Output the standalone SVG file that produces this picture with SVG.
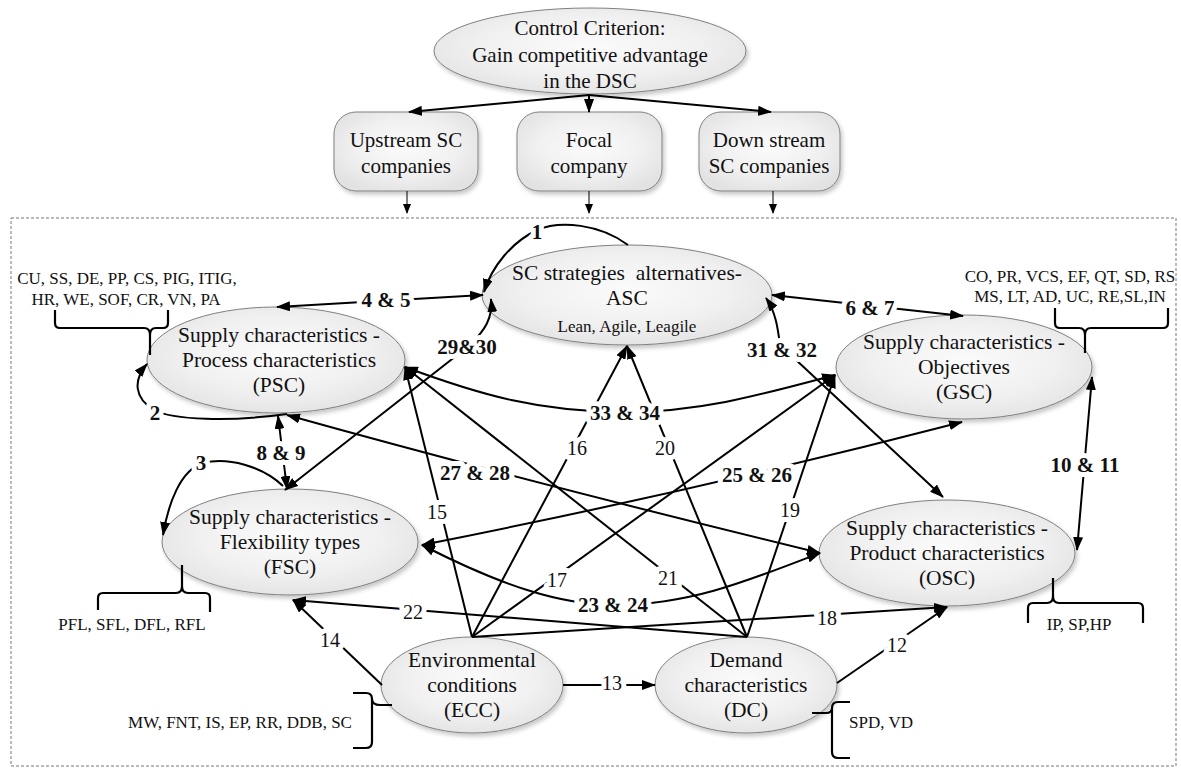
<svg xmlns="http://www.w3.org/2000/svg" width="1181" height="768" viewBox="0 0 1181 768">
<style>
  text{font-family:"Liberation Serif","Times New Roman",serif;fill:#111;text-anchor:middle}
  .nt{font-size:21.5px}
  .tt{font-size:21px}
  .an{font-size:17px}
  .lb{font-size:21px;font-weight:bold;paint-order:stroke;stroke:#fff;stroke-width:10px;stroke-linejoin:round}
  .ln{font-size:20px;paint-order:stroke;stroke:#fff;stroke-width:10px;stroke-linejoin:round}
  .shape{fill:url(#gf);stroke:#808080;stroke-width:1;filter:url(#sh)}
  .c{fill:none;stroke:#000;stroke-width:2}
  .ce{marker-end:url(#ah)}
  .cb{marker-start:url(#ah);marker-end:url(#ah)}
  .thin{fill:none;stroke:#000;stroke-width:1;marker-end:url(#ahs)}
  .br{fill:none;stroke:#000;stroke-width:2.2}
</style>
<defs>
  <radialGradient id="gf" cx="50%" cy="45%" r="60%">
    <stop offset="0" stop-color="#fbfbfb"/>
    <stop offset="0.6" stop-color="#f0f0f0"/>
    <stop offset="1" stop-color="#e2e2e2"/>
  </radialGradient>
  <filter id="sh" x="-10%" y="-10%" width="125%" height="130%">
    <feDropShadow dx="2" dy="3" stdDeviation="2" flood-color="#000" flood-opacity="0.22"/>
  </filter>
  <marker id="ah" viewBox="0 0 14 10" refX="13" refY="5" markerWidth="14" markerHeight="10" orient="auto-start-reverse" markerUnits="userSpaceOnUse">
    <path d="M0,0 L14,5 L0,10 z" fill="#000"/>
  </marker>
  <marker id="ahs" viewBox="0 0 10 8" refX="9" refY="4" markerWidth="10" markerHeight="8" orient="auto" markerUnits="userSpaceOnUse">
    <path d="M0,0 L10,4 L0,8 z" fill="#000"/>
  </marker>
</defs>
<rect width="1181" height="768" fill="#fff"/>

<!-- dashed frame -->
<rect x="11" y="218" width="1165" height="548" fill="none" stroke="#777" stroke-width="1" stroke-dasharray="3,2"/>

<!-- top nodes -->
<g id="control">
  <ellipse class="shape" cx="590" cy="51" rx="156" ry="43"/>
  <text class="tt" x="590" y="35">Control Criterion:</text>
  <text class="tt" x="590" y="62">Gain competitive advantage</text>
  <text class="tt" x="590" y="88">in the DSC</text>
</g>
<g id="upstream">
  <rect class="shape" x="334" y="112" width="144" height="79" rx="22"/>
  <text class="tt" x="406" y="147">Upstream SC</text>
  <text class="tt" x="406" y="173">companies</text>
</g>
<g id="focal">
  <rect class="shape" x="517" y="112" width="145" height="79" rx="22"/>
  <text class="tt" x="589" y="147">Focal</text>
  <text class="tt" x="589" y="173">company</text>
</g>
<g id="downstream">
  <rect class="shape" x="699" y="112" width="141" height="79" rx="22"/>
  <text class="tt" x="769" y="147">Down stream</text>
  <text class="tt" x="769" y="173">SC companies</text>
</g>

<!-- main nodes -->
<g id="ASC">
  <ellipse class="shape" cx="627" cy="295" rx="145" ry="50"/>
  <text class="nt" x="627" y="280" style="white-space:pre">SC strategies  alternatives-</text>
  <text class="nt" x="627" y="305">ASC</text>
  <text class="an" x="627" y="332">Lean, Agile, Leagile</text>
</g>
<g id="PSC">
  <ellipse class="shape" cx="276" cy="360" rx="129" ry="53"/>
  <text class="nt" x="279" y="342">Supply characteristics -</text>
  <text class="nt" x="279" y="367">Process characteristics</text>
  <text class="nt" x="279" y="392">(PSC)</text>
</g>
<g id="GSC">
  <ellipse class="shape" cx="964" cy="367" rx="128" ry="52"/>
  <text class="nt" x="964" y="349">Supply characteristics -</text>
  <text class="nt" x="964" y="374">Objectives</text>
  <text class="nt" x="964" y="399">(GSC)</text>
</g>
<g id="FSC">
  <ellipse class="shape" cx="290" cy="542" rx="128" ry="53"/>
  <text class="nt" x="290" y="524">Supply characteristics -</text>
  <text class="nt" x="290" y="549">Flexibility types</text>
  <text class="nt" x="290" y="574">(FSC)</text>
</g>
<g id="OSC">
  <ellipse class="shape" cx="947" cy="553" rx="128" ry="53"/>
  <text class="nt" x="947" y="535">Supply characteristics -</text>
  <text class="nt" x="947" y="560">Product characteristics</text>
  <text class="nt" x="947" y="585">(OSC)</text>
</g>
<g id="ECC">
  <ellipse class="shape" cx="472" cy="685" rx="91" ry="48"/>
  <text class="nt" x="472" y="667">Environmental</text>
  <text class="nt" x="472" y="692">conditions</text>
  <text class="nt" x="472" y="717">(ECC)</text>
</g>
<g id="DC">
  <ellipse class="shape" cx="746" cy="685" rx="91" ry="48"/>
  <text class="nt" x="746" y="667">Demand</text>
  <text class="nt" x="746" y="692">characteristics</text>
  <text class="nt" x="746" y="717">(DC)</text>
</g>

<!-- annotations with brackets -->
<g id="PSC-items">
  <text class="an" x="127" y="284">CU, SS, DE, PP, CS, PIG, ITIG,</text>
  <text class="an" x="126" y="305">HR, WE, SOF, CR, VN, PA</text>
  <path class="br" d="M55,310 L55,323 Q55,328 60,328 L144,328 Q150,328 150,335 L150,355 M150,335 Q150,328 156,328 L163,328 Q168,328 168,323 L168,310"/>
</g>
<g id="GSC-items">
  <text class="an" x="1070" y="282">CO, PR, VCS, EF, QT, SD, RS</text>
  <text class="an" x="1070" y="302">MS, LT, AD, UC, RE,SL,IN</text>
  <path class="br" d="M1055,308 L1055,323 Q1055,328 1060,328 L1079,328 Q1085,328 1085,335 L1085,353 M1085,335 Q1085,328 1091,328 L1163,328 Q1168,328 1168,323 L1168,308"/>
</g>
<g id="FSC-items">
  <path class="br" d="M182,565 L182,586 Q182,593 176,593 L103,593 Q98,593 98,598 L98,610 M182,586 Q182,593 188,593 L205,593 Q210,593 210,598 L210,612"/>
  <text class="an" x="132" y="630">PFL, SFL, DFL, RFL</text>
</g>
<g id="OSC-items">
  <path class="br" d="M1053,578 L1053,596 Q1053,603 1047,603 L1033,603 Q1028,603 1028,608 L1028,623 M1053,596 Q1053,603 1059,603 L1138,603 Q1143,603 1143,608 L1143,623"/>
  <text class="an" x="1079" y="630">IP, SP,HP</text>
</g>
<g id="ECC-items">
  <path class="br" d="M353,693 L366,693 Q372,693 372,699 Q372,705 380,705 L392,705 M372,699 Q372,705 372,711 L372,742 Q372,748 366,748 L353,748"/>
  <text class="an" x="240" y="728">MW, FNT, IS, EP, RR, DDB, SC</text>
</g>
<g id="DC-items">
  <path class="br" d="M850,702 L838,702 Q832,702 832,708 Q832,713 826,713 L812,713 M832,708 Q832,713 832,719 L832,752 Q832,758 838,758 L850,758"/>
  <text class="an" x="881" y="728">SPD, VD</text>
</g>

<!-- connectors -->
<g id="connectors">
  <!-- top -->
  <path class="c ce" d="M589,95 L409,112"/>
  <path class="c ce" d="M589,95 L589,112"/>
  <path class="c ce" d="M589,95 L771,112"/>
  <path class="thin" d="M407,191 L407,213"/>
  <path class="thin" d="M589,191 L589,213"/>
  <path class="thin" d="M773,191 L773,213"/>

  <!-- self loops -->
  <path class="c ce" d="M628,245 C600,224 560,220 537,230 C512,242 492,266 484,292"/>
  <path class="c ce" d="M287,414 C230,422 172,420 154,410 C134,398 133,380 147,364"/>
  <path class="c ce" d="M283,486 C262,466 228,457 203,463 C180,470 168,505 163,535"/>

  <!-- bidirectional -->
  <path class="c cb" d="M277,307 L483,295"/>
  <path class="c cb" d="M772,295 L963,316"/>
  <path class="c cb" d="M278,416 L287,489"/>
  <path class="c cb" d="M1092,377 L1077,550"/>
  <path class="c cb" d="M422,545 C500,585 560,605 615,605 C690,605 750,580 820,553"/>
  <path class="c cb" d="M422,545 Q700,490 962,422"/>
  <path class="c cb" d="M287,415 Q520,480 820,553"/>
  <path class="c cb" d="M491,299 C493,318 485,330 470,345 L285,490"/>
  <path class="c cb" d="M766,298 C776,312 778,330 780,345 L943,497"/>
  <path class="c cb" d="M405,367 C480,395 540,412 625,412 C700,412 760,395 835,375"/>

  <!-- single direction -->
  <path class="c ce" d="M837,683 L947,607"/>
  <path class="c ce" d="M563,685 L655,685"/>
  <path class="c ce" d="M382,685 L293,600"/>
  <path class="c ce" d="M472,637 L405,367"/>
  <path class="c ce" d="M472,637 L627,346"/>
  <path class="c ce" d="M472,637 L835,375"/>
  <path class="c ce" d="M472,637 L947,607"/>
  <path class="c ce" d="M747,637 L835,375"/>
  <path class="c ce" d="M747,637 L627,346"/>
  <path class="c ce" d="M747,637 L405,367"/>
  <path class="c ce" d="M747,637 L293,600"/>

  <!-- labels -->
  <text class="lb" x="537" y="239">1</text>
  <text class="lb" x="155" y="420">2</text>
  <text class="lb" x="201" y="470">3</text>
  <text class="lb" x="386" y="307">4 &amp; 5</text>
  <text class="lb" x="870" y="315">6 &amp; 7</text>
  <text class="lb" x="281" y="460">8 &amp; 9</text>
  <text class="lb" x="1085" y="472">10 &amp; 11</text>
  <text class="ln" x="897" y="652">12</text>
  <text class="ln" x="612" y="690">13</text>
  <text class="ln" x="330" y="647">14</text>
  <text class="ln" x="437" y="519">15</text>
  <text class="ln" x="577" y="455">16</text>
  <text class="ln" x="557" y="587">17</text>
  <text class="ln" x="827" y="625">18</text>
  <text class="ln" x="790" y="517">19</text>
  <text class="ln" x="665" y="455">20</text>
  <text class="ln" x="668" y="585">21</text>
  <text class="ln" x="413" y="619">22</text>
  <text class="lb" x="613" y="612">23 &amp; 24</text>
  <text class="lb" x="757" y="482">25 &amp; 26</text>
  <text class="lb" x="475" y="480">27 &amp; 28</text>
  <text class="lb" x="467" y="354">29&amp;30</text>
  <text class="lb" x="782" y="357">31 &amp; 32</text>
  <text class="lb" x="625" y="420">33 &amp; 34</text>
</g>
</svg>
